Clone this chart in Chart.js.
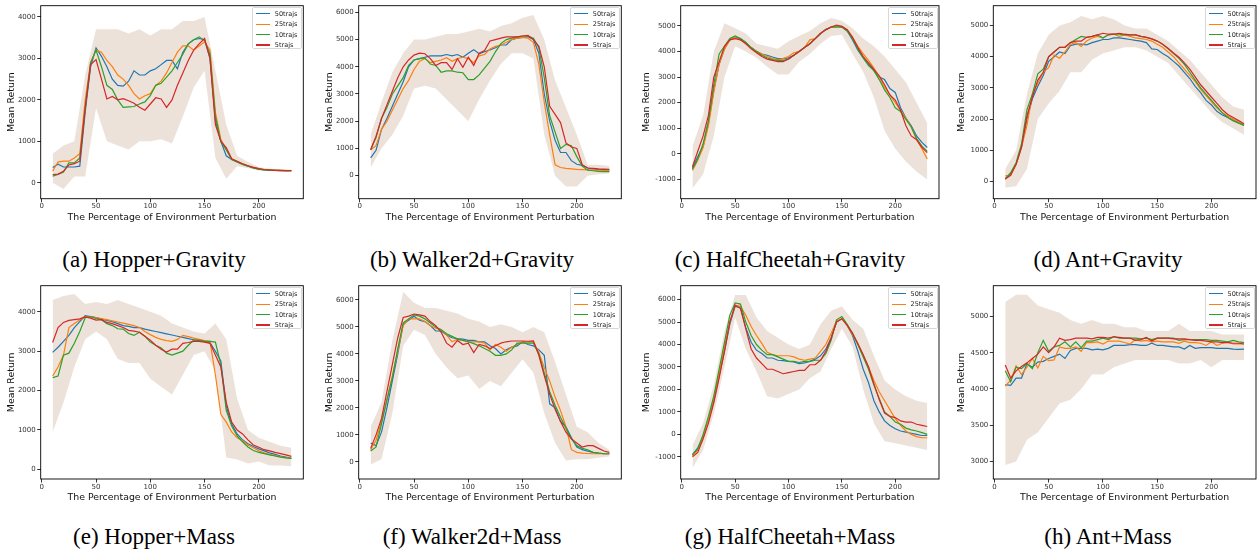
<!DOCTYPE html>
<html lang="en">
<head>
    <meta charset="UTF-8">
    <title>Mean Return vs Environment Perturbation</title>
    <script src="https://cdn.jsdelivr.net/npm/chart.js@4.4.0/dist/chart.umd.min.js"></script>
    <style>
        body { margin: 0; background: #fff; }
        #fig { position: relative; width: 1257px; height: 550px; overflow: hidden; }
        #fig canvas { position: absolute; }
        .cap {
            position: absolute; width: 318px; text-align: center;
            font-family: 'Liberation Serif', 'Times New Roman', serif;
            font-size: 23px; line-height: 26px; color: #000;
        }
        .legend {
            position: absolute; width: 48px; height: 40px;
            border: 1px solid #d8d8d8; border-radius: 2px; background: rgba(255,255,255,0.8);
            font-family: 'DejaVu Sans', sans-serif; font-size: 6.5px; color: #222;
        }
        .legend .row { position: absolute; left: 0; height: 10px; line-height: 10px; }
        .legend .sw { position: absolute; left: 3px; top: 4.5px; width: 14px; height: 1.2px; }
        .legend .lb { position: absolute; left: 22px; top: 0; white-space: nowrap; }
    </style>
</head>
<body>
<div id="fig"></div>
<script>
// x positions (percentage of perturbation) and the coarser grid for the shaded bands
const X = [10,15,20,25,30,35,40,45,50,55,60,65,70,75,80,85,90,95,100,105,110,115,120,125,130,135,140,145,150,155,160,165,170,175,180,185,190,195,200,205,210,215,220,225,230];
const BX = [10,20,30,40,50,60,70,80,90,100,110,120,130,140,150,160,170,180,190,200,210,220,230];
const series = ['50trajs', '25trajs', '10trajs', '5trajs'];
const xTicks = [0, 50, 100, 150, 200];

// (a) Hopper + Gravity
const hopGrav50 = [370,450,380,380,380,400,1700,2800,3250,3050,2800,2500,2350,2330,2450,2700,2600,2600,2700,2750,2850,2950,2950,2750,3150,3350,3450,3480,3450,3000,1500,1000,650,560,500,450,400,360,330,310,300,300,295,290,290];
const hopGrav25 = [280,500,520,520,600,700,2000,2900,3200,3150,2950,2800,2600,2500,2350,2150,2020,2100,2150,2350,2450,2650,2900,3150,3300,3300,3200,3300,3400,3200,1700,1050,800,580,520,460,410,370,340,320,310,300,300,295,295];
const hopGrav10 = [160,200,260,480,480,600,1800,2900,3200,2800,2350,2250,2000,1820,1830,1840,1900,1950,2100,2350,2400,2550,2700,2900,3100,3350,3450,3520,3430,3100,1600,1000,800,560,500,440,400,360,330,310,300,300,295,290,290];
const hopGrav5 = [200,210,280,430,460,520,1800,2850,2970,2500,2020,2080,2000,2030,1980,1920,1820,1750,1900,2050,2020,1820,2000,2350,2650,2950,3200,3350,3480,3000,1400,1000,850,580,520,460,410,370,340,320,310,300,300,295,295];
const hopGravLo = [0,-150,150,150,1800,1000,900,800,1000,1000,1050,950,1600,2300,2700,600,100,400,350,290,280,270,270];
const hopGravHi = [700,900,1000,2600,3700,3700,3700,3600,3700,3550,3700,3700,3900,3900,4000,2700,1400,650,500,380,340,330,320];

// (b) Walker2d + Gravity
const walkGrav50 = [650,930,1700,2100,2550,3000,3450,4000,4250,4300,4350,4400,4400,4400,4450,4400,4450,4350,4500,4630,4480,4550,4620,4700,4800,4800,5000,5050,5080,5100,5000,4500,3000,2000,1300,850,850,550,420,380,280,250,230,220,200];
const walkGrav25 = [950,1100,1700,2000,2400,2800,3200,3500,3900,4200,4300,4150,4200,4250,4330,4200,4300,4350,4300,4150,4400,4450,4650,4750,4800,4900,5000,5050,5080,5050,4900,4100,2700,1500,400,300,270,250,230,220,210,200,200,190,180];
const walkGrav10 = [950,1400,2100,2500,3000,3300,3600,4050,4250,4300,4330,4100,4050,3800,3850,3850,3800,3780,3530,3530,3700,3950,4200,4550,4850,5000,5050,5100,5130,5130,5050,4700,3600,2200,1600,1000,1150,1100,700,350,200,180,160,150,150];
const walkGrav5 = [950,1450,2100,2600,3100,3600,4000,4250,4430,4500,4480,4300,4050,4150,4150,3900,4300,3980,4350,4050,4500,4600,4950,5000,5050,5100,5100,5100,5130,5150,5000,4750,4000,2550,2250,1950,1200,1050,1000,400,280,270,250,240,230];
const walkGravLo = [300,1000,1500,2200,3200,3300,3200,2800,2400,2000,2800,3500,4100,4500,4500,4300,1500,0,-400,-400,0,50,80];
const walkGravHi = [1500,2700,3800,4500,5000,5000,5100,5200,5200,5300,5400,5300,5500,5600,5800,5900,5000,3500,2500,1500,400,400,350];

// (c) HalfCheetah + Gravity
const cheGrav50 = [-550,-100,300,1200,2500,3500,4100,4450,4550,4500,4350,4150,4000,3900,3850,3780,3720,3720,3750,3850,4000,4150,4300,4500,4700,4850,4950,5000,4950,4800,4450,4050,3750,3500,3250,3000,2900,2550,2400,1800,1400,1100,700,450,250];
const cheGrav25 = [-650,-250,250,1100,2400,3500,4100,4450,4550,4450,4300,4150,4000,3900,3800,3720,3680,3720,3800,3950,4000,4150,4450,4500,4700,4850,4950,4980,4980,4850,4550,4200,3900,3650,3350,3000,2600,2300,2000,1700,1400,1050,550,200,-200];
const cheGrav10 = [-600,-200,400,1300,2700,3900,4200,4500,4600,4500,4350,4150,4000,3850,3750,3680,3650,3650,3700,3850,4000,4150,4300,4500,4700,4850,4950,4960,4950,4800,4500,4100,3750,3450,3250,2900,2500,2200,1800,1650,1350,1050,600,300,100];
const cheGrav5 = [-500,100,700,1500,3000,3600,4200,4450,4500,4450,4300,4100,3950,3800,3700,3650,3600,3600,3700,3850,4000,4150,4300,4500,4700,4850,4950,5030,4980,4850,4550,4150,3800,3550,3300,3050,2700,2300,2100,1700,1100,700,550,250,50];
const cheGravLo = [-1350,-800,700,3000,4200,4000,3750,3400,3100,3100,3600,3900,4300,4600,4650,3900,3200,2200,900,200,-300,-700,-1000];
const cheGravHi = [300,1500,4000,5100,4900,4700,4300,4200,4100,4400,4600,4800,5100,5300,5200,4900,4500,4200,3800,3300,2800,2000,1200];

// (d) Ant + Gravity
const antGrav50 = [80,250,550,1100,2000,2650,3050,3400,3850,4000,4150,4100,4350,4400,4400,4380,4450,4500,4550,4550,4600,4600,4580,4550,4520,4500,4450,4250,4230,4100,4000,3850,3700,3500,3300,3050,2850,2600,2450,2250,2130,2050,1950,1880,1800];
const antGrav25 = [180,200,550,1100,1800,2800,3150,3500,3650,4050,3950,4150,4400,4450,4330,4500,4600,4650,4600,4700,4720,4650,4700,4650,4600,4580,4550,4500,4400,4300,4150,4000,3800,3600,3400,3200,2950,2750,2550,2350,2200,2100,2000,1900,1820];
const antGrav10 = [80,280,600,1200,2300,2800,3450,3600,4000,4150,4300,4300,4450,4550,4650,4620,4650,4700,4600,4700,4720,4720,4700,4700,4700,4650,4620,4570,4500,4400,4250,4100,3950,3750,3500,3250,3000,2800,2600,2400,2200,2050,1950,1870,1800];
const antGrav5 = [80,200,550,1100,2100,2700,3250,3500,4000,4150,4300,4300,4450,4500,4500,4620,4650,4700,4750,4720,4720,4750,4720,4700,4700,4650,4620,4570,4500,4400,4270,4120,3980,3800,3600,3350,3100,2900,2700,2500,2300,2150,2050,1950,1850];
const antGravLo = [-200,-150,400,2000,2500,2900,3500,3500,3900,4100,4200,4300,4300,4200,4000,3800,3400,3000,2600,2200,1900,1700,1500];
const antGravHi = [400,1000,2800,4100,4700,5000,5100,5300,5200,5300,5200,5000,4900,4900,4700,4500,4200,3900,3500,3100,2700,2400,2300];

// (e) Hopper + Mass
const hopMass50 = [2970,3100,3250,3400,3600,3750,3900,3880,3850,3820,3780,3750,3700,3650,3630,3600,3600,3560,3530,3500,3470,3440,3410,3380,3350,3320,3290,3270,3250,3220,3000,2750,1600,1150,900,750,650,580,520,470,420,380,340,310,280];
const hopMass25 = [2370,2600,2900,3600,3700,3800,3870,3870,3850,3820,3800,3770,3740,3710,3680,3650,3600,3500,3420,3350,3300,3270,3250,3300,3400,3370,3330,3300,3270,3250,2400,1400,1200,950,800,730,620,550,470,420,380,350,320,300,280];
const hopMass10 = [2330,2370,2900,2950,3200,3500,3850,3880,3830,3800,3700,3650,3570,3560,3450,3400,3480,3380,3230,3150,3080,2950,2900,2950,3000,3150,3280,3280,3250,3250,3230,2650,1500,1100,850,700,570,480,430,400,370,340,310,290,280];
const hopMass5 = [3220,3600,3730,3780,3800,3820,3870,3840,3790,3800,3730,3700,3650,3600,3530,3510,3480,3380,3280,3150,3050,2980,3050,3050,3200,3220,3250,3250,3230,3200,2900,2600,1700,1200,1000,900,750,620,560,500,470,430,400,370,330];
const hopMassLo = [950,1700,2600,3300,3500,3300,2800,2700,2700,2300,2100,1900,2400,2900,3000,2500,300,250,150,200,100,100,80];
const hopMassHi = [4300,4400,4450,4200,4250,4200,4300,4200,4100,4000,3900,3700,3600,3500,3450,3700,3300,1800,1000,800,700,600,550];

// (f) Walker2d + Mass
const walkMass50 = [700,600,1100,2000,3000,4000,5100,5250,5400,5250,5200,5050,4850,4850,4700,4600,4570,4550,4500,4500,4450,4450,4300,4200,4000,4150,4250,4300,4450,4350,4300,4150,3950,2150,2000,1500,1300,900,550,450,400,350,320,300,300];
const walkMass25 = [450,800,1500,2300,3200,4100,5050,5300,5300,5300,5200,5050,4950,4900,4700,4450,4550,4500,4450,4450,4450,4400,4150,4350,4250,4100,4250,4350,4450,4450,4450,4050,3500,3000,2400,1900,1300,450,350,320,310,300,300,300,300];
const walkMass10 = [400,550,1400,2300,3100,4200,5150,5300,5450,5400,5300,5150,5000,4900,4750,4650,4550,4500,4450,4380,4300,4200,4100,3950,3950,4000,4150,4400,4400,4400,4400,4000,3300,2600,2100,1650,1250,850,600,500,450,350,320,300,300];
const walkMass5 = [500,1000,1600,2600,3600,4600,5350,5400,5480,5450,5400,5200,5050,4800,4400,4250,4500,4350,4400,4050,4350,4300,4200,4300,4400,4450,4480,4480,4480,4470,4480,3950,3200,2500,1950,1500,1100,850,700,550,600,600,500,400,350];
const walkMassLo = [-100,100,1800,4300,4900,4700,4000,3500,3100,3200,2700,3000,2800,3300,3800,3300,1800,700,50,100,100,150,200];
const walkMassHi = [1300,2200,4500,6300,5900,5700,5700,5600,5500,5300,5200,5000,5100,5000,4800,5000,4800,3700,2500,1300,1100,700,450];

// (g) HalfCheetah + Mass
const cheMass50 = [-900,-600,-100,600,1500,2600,3700,4900,5700,5650,4750,4100,3750,3600,3400,3400,3300,3280,3250,3230,3150,3180,3250,3350,3500,3800,4300,5000,5150,4850,4400,3700,2900,2300,1500,1000,600,400,250,150,100,50,0,-50,-50];
const cheMass25 = [-950,-700,-150,600,1600,2700,3900,5000,5750,5700,5300,4800,4400,4050,3650,3550,3500,3500,3500,3450,3350,3300,3350,3400,3700,4000,4500,5050,5150,4850,4450,4000,3500,3000,2400,1900,1500,1100,700,400,150,0,-100,-150,-150];
const cheMass10 = [-900,-650,0,800,1700,2900,4100,5300,5850,5800,5000,4400,4000,3750,3550,3550,3450,3350,3250,3250,3200,3250,3250,3300,3300,3600,4200,5100,5250,4900,4500,4000,3450,2900,2200,1600,1000,800,550,450,280,200,150,80,0];
const cheMass5 = [-1000,-800,-200,500,1400,2500,3700,5000,5750,5600,4700,3800,3400,3150,2900,2900,2800,2700,2750,2800,2850,2850,3100,3100,3300,3700,4300,5000,5150,4850,4500,4050,3550,3000,2250,1550,950,800,750,600,550,550,450,400,350];
const cheMassLo = [-1500,-700,900,3000,5200,3800,2800,1700,1600,1800,2000,2500,2800,3800,4700,3900,2000,500,-300,-400,-500,-600,-700];
const cheMassHi = [-500,500,2200,4600,6200,6200,5200,4600,4300,4000,3800,4000,4900,5500,5700,5100,4700,3500,2400,2000,1700,1500,1400];

// (h) Ant + Mass
const antMass50 = [4060,4050,4150,4150,4350,4300,4370,4380,4420,4450,4480,4420,4530,4560,4560,4560,4540,4550,4540,4560,4600,4600,4600,4610,4610,4600,4600,4630,4600,4600,4590,4580,4580,4550,4600,4560,4570,4570,4570,4560,4560,4560,4550,4545,4550];
const antMass25 = [4040,4120,4320,4200,4300,4420,4290,4450,4390,4400,4580,4560,4560,4580,4520,4640,4640,4650,4620,4660,4660,4660,4640,4620,4680,4660,4670,4650,4660,4650,4650,4650,4630,4660,4640,4640,4630,4600,4650,4600,4630,4650,4620,4620,4620];
const antMass10 = [4250,4100,4300,4280,4350,4280,4500,4670,4520,4580,4600,4650,4580,4650,4570,4660,4660,4680,4700,4680,4720,4700,4700,4700,4700,4690,4700,4680,4700,4700,4700,4700,4670,4680,4680,4680,4680,4680,4670,4670,4660,4650,4670,4650,4640];
const antMass5 = [4330,4150,4250,4310,4360,4420,4480,4580,4500,4580,4700,4670,4680,4700,4700,4700,4690,4710,4710,4700,4720,4710,4700,4700,4670,4680,4710,4660,4700,4700,4700,4690,4690,4690,4680,4670,4670,4660,4650,4650,4640,4640,4630,4630,4620];
const antMassLo = [2950,3000,3300,3400,3600,3800,3850,4000,4200,4200,4300,4350,4400,4400,4400,4400,4350,4350,4400,4300,4400,4400,4400];
const antMassHi = [5200,5300,5300,5150,5100,5050,4950,4900,4950,4900,4900,4850,4850,4800,4800,4800,4900,4800,4800,4800,4750,4750,4750];

// y tick labels
const ticks0to4k = [0,1000,2000,3000,4000];
const ticks0to5k = [0,1000,2000,3000,4000,5000];
const ticks0to6k = [0,1000,2000,3000,4000,5000,6000];
const ticksM1to5k = [-1000,0,1000,2000,3000,4000,5000];
const ticksM1to6k = [-1000,0,1000,2000,3000,4000,5000,6000];
const ticksAntMass = [3000,3500,4000,4500,5000];

const colors = ['#1f77b4', '#ff7f0e', '#2ca02c', '#d62728'];
const bandColor = 'rgba(175,135,100,0.24)';

// layout of the 2x4 grid (page pixels)
const colX = [0, 318, 635, 950];
const colL = [40.7, 358.7, 680.7, 993.3];
const colR = [303.3, 621.3, 939, 1256];
const rowY = [0, 280];
const rowT = [4, 284];
const rowB = [198.7, 479];
const capTop = [247, 524];

const panels = [
    { cap: '(a) Hopper+Gravity', c: 0, r: 0, lines: [hopGrav50, hopGrav25, hopGrav10, hopGrav5], lo: hopGravLo, hi: hopGravHi, ymin: -384, ymax: 4271, yt: ticks0to4k },
    { cap: '(b) Walker2d+Gravity', c: 1, r: 0, lines: [walkGrav50, walkGrav25, walkGrav10, walkGrav5], lo: walkGravLo, hi: walkGravHi, ymin: -847, ymax: 6244, yt: ticks0to6k },
    { cap: '(c) HalfCheetah+Gravity', c: 2, r: 0, lines: [cheGrav50, cheGrav25, cheGrav10, cheGrav5], lo: cheGravLo, hi: cheGravHi, ymin: -1750, ymax: 5784, yt: ticksM1to5k },
    { cap: '(d) Ant+Gravity', c: 3, r: 0, lines: [antGrav50, antGrav25, antGrav10, antGrav5], lo: antGravLo, hi: antGravHi, ymin: -552, ymax: 5634, yt: ticks0to5k },
    { cap: '(e) Hopper+Mass', c: 0, r: 1, lines: [hopMass50, hopMass25, hopMass10, hopMass5], lo: hopMassLo, hi: hopMassHi, ymin: -244, ymax: 4662, yt: ticks0to4k },
    { cap: '(f) Walker2d+Mass', c: 1, r: 1, lines: [walkMass50, walkMass25, walkMass10, walkMass5], lo: walkMassLo, hi: walkMassHi, ymin: -636, ymax: 6529, yt: ticks0to6k },
    { cap: '(g) HalfCheetah+Mass', c: 2, r: 1, lines: [cheMass50, cheMass25, cheMass10, cheMass5], lo: cheMassLo, hi: cheMassHi, ymin: -1986, ymax: 6619, yt: ticksM1to6k },
    { cap: '(h) Ant+Mass', c: 3, r: 1, lines: [antMass50, antMass25, antMass10, antMass5], lo: antMassLo, hi: antMassHi, ymin: 2758, ymax: 5424, yt: ticksAntMass }
];

// box around the plot area, like matplotlib spines
const frame = {
    id: 'frame',
    afterDraw(chart) {
        const { ctx, chartArea: a } = chart;
        ctx.save();
        ctx.strokeStyle = '#000';
        ctx.lineWidth = 0.9;
        ctx.strokeRect(a.left, a.top, a.right - a.left, a.bottom - a.top);
        ctx.restore();
    }
};

const fig = document.getElementById('fig');
const tickFont = { family: 'DejaVu Sans', size: 7 };
const titleFont = { family: 'DejaVu Sans', size: 9.4 };

panels.forEach(p => {
    const left = colX[p.c], top = rowY[p.r];
    const w = Math.min(1257, Math.ceil(colR[p.c]) + 1) - left;
    const h = Math.round(rowB[p.r] + 27 - top);

    const cv = document.createElement('canvas');
    cv.width = w; cv.height = h;
    cv.style.left = left + 'px'; cv.style.top = top + 'px';
    cv.style.width = w + 'px'; cv.style.height = h + 'px';
    fig.appendChild(cv);

    const datasets = [];
    // shaded spread, upper edge filled down to the lower edge
    datasets.push({ data: BX.map((x, i) => ({ x, y: p.hi[i] })), borderWidth: 0, pointRadius: 0, backgroundColor: bandColor, fill: '+1', order: 10 });
    datasets.push({ data: BX.map((x, i) => ({ x, y: p.lo[i] })), borderWidth: 0, pointRadius: 0, fill: false, order: 11 });
    p.lines.forEach((arr, k) => {
        datasets.push({
            label: series[k],
            data: X.map((x, i) => ({ x, y: arr[i] })),
            borderColor: colors[k], borderWidth: 1.2, pointRadius: 0, fill: false, tension: 0,
            order: 3 - k
        });
    });

    new Chart(cv, {
        type: 'line',
        data: { datasets },
        options: {
            responsive: false, animation: false, devicePixelRatio: 1,
            layout: { autoPadding: false, padding: { top: rowT[p.r] - top, right: left + w - colR[p.c], left: 0, bottom: 0 } },
            plugins: { legend: { display: false }, tooltip: { enabled: false } },
            scales: {
                x: {
                    type: 'linear', min: -1, max: 241,
                    afterBuildTicks: s => { s.ticks = xTicks.map(v => ({ value: v })); },
                    afterFit: s => { s.height = h - (rowB[p.r] - top); },
                    grid: { display: true, drawOnChartArea: false, drawTicks: true, tickLength: 3.5, color: '#000', lineWidth: 0.8 },
                    border: { display: false },
                    ticks: { font: tickFont, color: '#333', padding: 0, maxRotation: 0, autoSkip: false },
                    title: { display: true, text: 'The Percentage of Environment Perturbation', font: titleFont, color: '#111', padding: { top: 5.5, bottom: 2.5 } }
                },
                y: {
                    type: 'linear', min: p.ymin, max: p.ymax,
                    afterBuildTicks: s => { s.ticks = p.yt.map(v => ({ value: v })); },
                    afterFit: s => { s.width = colL[p.c] - left; },
                    grid: { display: true, drawOnChartArea: false, drawTicks: true, tickLength: 3.5, color: '#000', lineWidth: 0.8 },
                    border: { display: false },
                    ticks: { font: tickFont, color: '#333', padding: 1.5, autoSkip: false, callback: v => String(v) },
                    title: { display: true, text: 'Mean Return', font: titleFont, color: '#111', padding: { top: 5.5, bottom: 2.5 } }
                }
            }
        },
        plugins: [frame]
    });

    // legend box in the upper right corner of the plot
    const lg = document.createElement('div');
    lg.className = 'legend';
    lg.style.left = (colR[p.c] - 51.5) + 'px';
    lg.style.top = (rowT[p.r] + 3.3) + 'px';
    series.forEach((name, k) => {
        const row = document.createElement('div');
        row.className = 'row';
        row.style.top = (0.5 + k * 10.4) + 'px';
        row.innerHTML = '<div class="sw" style="background:' + colors[k] + '"></div><div class="lb">' + name + '</div>';
        lg.appendChild(row);
    });
    fig.appendChild(lg);

    const cap = document.createElement('div');
    cap.className = 'cap';
    cap.textContent = p.cap;
    cap.style.left = (p.c * 318 - 5) + 'px';
    cap.style.top = capTop[p.r] + 'px';
    fig.appendChild(cap);
});
</script>
</body>
</html>
